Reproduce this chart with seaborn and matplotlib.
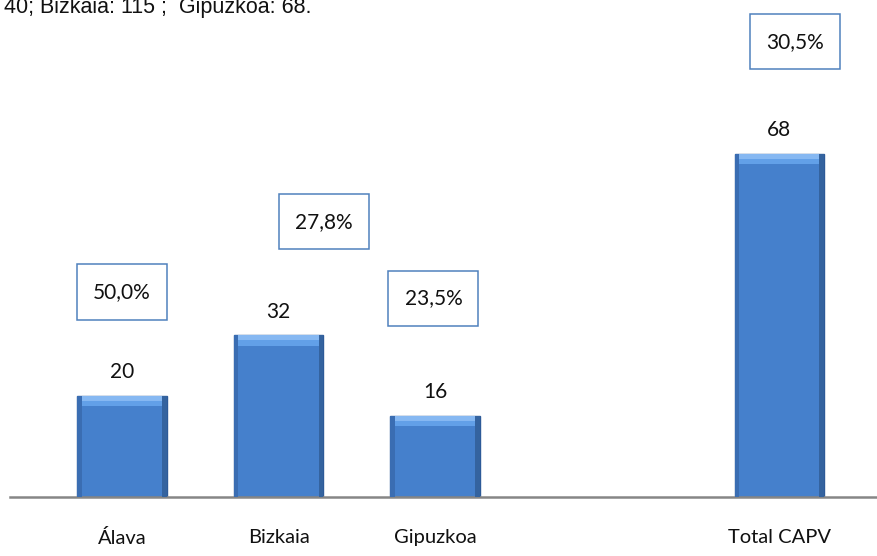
import numpy as np
import pandas as pd
import matplotlib
matplotlib.use("Agg")
import matplotlib.pyplot as plt
import seaborn as sns
from matplotlib.patches import Rectangle

# data
regions = ["Álava", "Bizkaia", "Gipuzkoa", "Total CAPV"]
counts = [20, 32, 16, 68]
shares = ["50,0%", "27,8%", "23,5%", "30,5%"]
note = "40; Bizkaia: 115 ;  Gipuzkoa: 68."

# layout (category slots and where the share boxes sit)
slots = [0, 1, 2, 4.2]
box_x = [0.0, 1.29, 1.99, 4.30]
box_y = [40.6, 54.5, 39.4, 90.1]

sns.set_theme(style="white")
plt.rcParams['font.family'] = ['Lato', 'DejaVu Sans']

df = pd.DataFrame({"slot": slots, "count": counts, "region": regions})

fig = plt.figure(figsize=(8.77, 5.56), dpi=100)
ax = fig.add_axes([0.0114, 0.106, 0.9886, 0.894])

sns.barplot(data=df, x="slot", y="count", native_scale=True, width=0.57,
            color="#4580cc", edgecolor="#2d5a98", linewidth=1.0,
            saturation=1, ax=ax)

# bevel look: light top band, darker side strips
for p in ax.patches[:len(counts)]:
    x0, w, h = p.get_x(), p.get_width(), p.get_height()
    ax.add_patch(Rectangle((x0, h - 1.0), w, 1.0, facecolor="#86b8f2",
                           edgecolor="none", zorder=3))
    ax.add_patch(Rectangle((x0, h - 2.0), w, 1.0, facecolor="#62a0e8",
                           edgecolor="none", zorder=3))
    ax.add_patch(Rectangle((x0, 0), w * 0.05, h, facecolor="#3a6db2",
                           edgecolor="none", zorder=3))
    ax.add_patch(Rectangle((x0 + w * 0.95, 0), w * 0.05, h,
                           facecolor="#34639f", edgecolor="none", zorder=3))

ax.bar_label(ax.containers[0], labels=[str(c) for c in counts], padding=10,
             fontsize=15, color="#111111")

bw, bh = 0.575, 10.9
for x, y, s in zip(box_x, box_y, shares):
    ax.add_patch(Rectangle((x - bw / 2, y - bh / 2), bw, bh, facecolor="white",
                           edgecolor="#4f81bd", linewidth=1.1, zorder=4))
    ax.text(x, y, s, ha="center", va="center", fontsize=15, color="#111111",
            zorder=5)

ax.set_xlim(-0.716, 4.824)
ax.set_ylim(0, 98.4)
ax.set_xticks(slots)
ax.set_xticklabels(regions, fontsize=14.5, color="#111111")
ax.tick_params(axis="x", length=0, pad=23)
ax.set_yticks([])
ax.set_xlabel("")
ax.set_ylabel("")
for side in ["top", "right", "left"]:
    ax.spines[side].set_visible(False)
ax.spines["bottom"].set_color("#868686")
ax.spines["bottom"].set_linewidth(1.8)

# the note is cropped at the top edge in the reference as well
fig.text(0.005, 0.9775, note, fontsize=15.5, family="Liberation Sans",
         ha="left", va="baseline", color="#111111")

plt.savefig("out.png", dpi=100)
plt.close()
